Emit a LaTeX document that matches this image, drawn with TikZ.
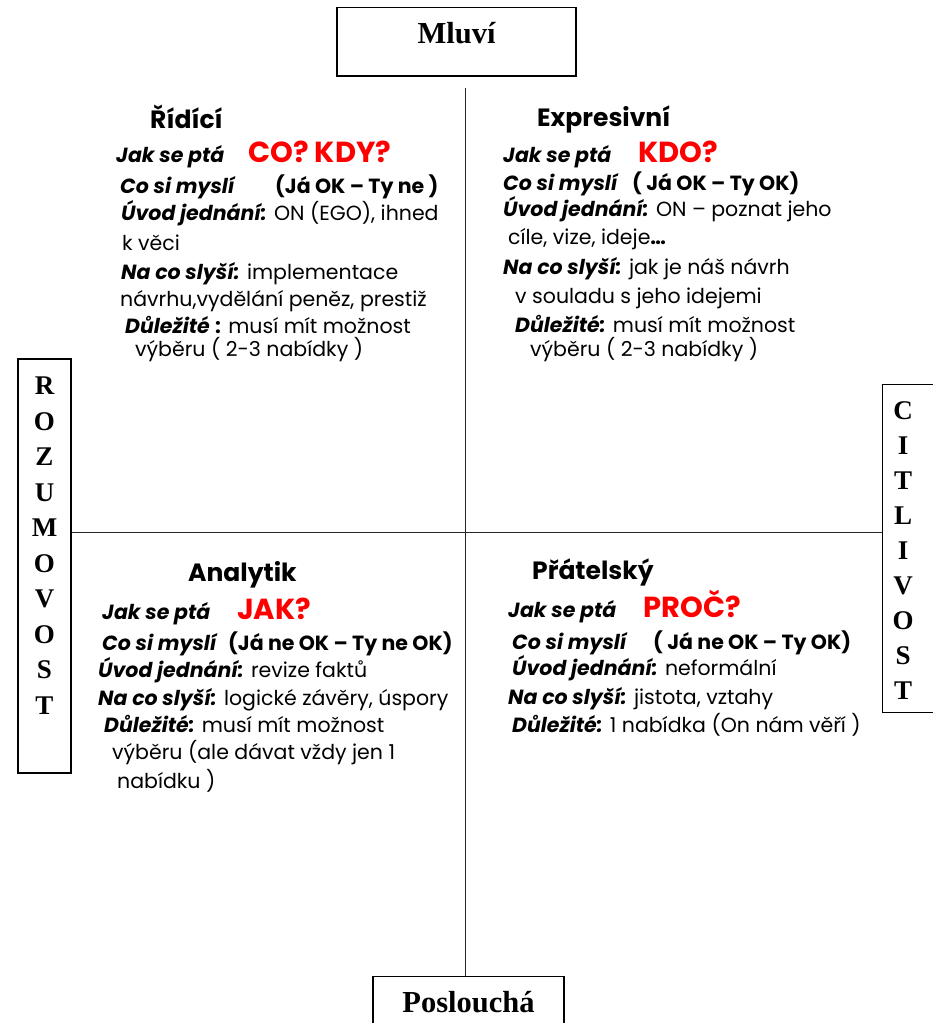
\documentclass[tikz,border=0pt]{standalone}
\usepackage{fontspec}
\setmainfont{Poppins}
\newfontfamily\tnr{Liberation Serif}
\newcommand\lb[1]{\textbf{\textit{#1}}}
\begin{document}
\begin{tikzpicture}[x=1pt,y=-1pt,
  txt/.style={anchor=base west, inner sep=0pt, font=\fontsize{20.5}{24}\selectfont},
  head/.style={anchor=base west, inner sep=0pt, font=\fontsize{25}{30}\selectfont\bfseries},
  ask/.style={anchor=base west, inner sep=0pt, text=red, font=\fontsize{29}{34}\selectfont\bfseries},
  boldp/.style={anchor=base west, inner sep=0pt, font=\fontsize{20.5}{24}\selectfont\bfseries},
  frame/.style={draw=black, line width=1.3pt, inner sep=0pt},
  axis/.style={draw=black!85, line width=0.9pt},
  serif/.style={font=\tnr\fontsize{30.5}{34}\selectfont\bfseries},
  vert/.style={align=center, inner sep=0pt, anchor=north, font=\tnr\fontsize{27}{35.5}\selectfont\bfseries}
]
\useasboundingbox (0,0) rectangle (932,1023);
\fill[white] (0,0) rectangle (932,1023);

% boxes
\node[frame, serif, minimum width=239pt, minimum height=68.5pt, text height=35.5pt, text depth=33pt] (mluvi) at (456.5,41.75) {Mluví};
\node[frame, serif, minimum width=191pt, minimum height=56pt, text height=36pt, text depth=20pt, anchor=north] (posl) at (468.5,976) {Poslouchá};
\node[frame, minimum width=53pt, minimum height=414pt] (rozum) at (44.5,566) {};
\node[vert] (rozumt) at (44.5,377) {R\\O\\Z\\U\\M\\O\\V\\O\\S\\T};
\node[frame, minimum width=72pt, minimum height=328pt, anchor=north west] (citl) at (882,384) {};
\node[vert, font=\tnr\fontsize{27}{35}\selectfont\bfseries] (citlt) at (903,401) {C\\I\\T\\L\\I\\V\\O\\S\\T};

% axes
\coordinate (ctr) at (465,532);
\coordinate (top) at (465,88);
\draw[axis] (top) -- (top |- posl.north);
\draw[axis] (rozum.east |- ctr) -- (citl.west |- ctr);

% top-left
\node[head] (h1) at (150,128) {Řídící};
\node[txt] (a1) at (116,162) {\lb{Jak se ptá}};
\node[ask] (r1) at (248,162) {CO? KDY?};
\node[txt] (b1) at (120,193) {\lb{Co si myslí}};
\node[boldp] (b1x) at (275,193) {(Já OK – Ty ne )};
\node[txt] (c1) at (121,220) {\lb{Úvod jednání:} ON (EGO), ihned};
\node[txt] (c1b) at (122,250) {k věci};
\node[txt] (d1) at (121,279) {\lb{Na co slyší:} implementace};
\node[txt] (d1b) at (120,306) {návrhu,vydělání peněz, prestiž};
\node[txt] (e1) at (125,333) {\lb{Důležité} \textbf{:} musí mít možnost};
\node[txt] (e1b) at (135,356) {výběru ( 2-3 nabídky )};

% top-right
\node[head] (h2) at (537,126) {Expresivní};
\node[txt] (a2) at (503,162) {\lb{Jak se ptá}};
\node[ask] (r2) at (638,162) {KDO?};
\node[txt] (b2) at (503,190) {\lb{Co si myslí}};
\node[boldp] (b2x) at (632,190) {( Já OK – Ty OK)};
\node[txt] (c2) at (503,216) {\lb{Úvod jednání:} ON – poznat jeho};
\node[txt] (c2b) at (508,244) {cíle, vize, ideje\textbf{…}};
\node[txt] (d2) at (503,274) {\lb{Na co slyší:} jak je náš návrh};
\node[txt] (d2b) at (515,303) {v souladu s jeho idejemi};
\node[txt] (e2) at (515,332) {\lb{Důležité:} musí mít možnost};
\node[txt] (e2b) at (530,356) {výběru ( 2-3 nabídky )};

% bottom-left
\node[head] (h3) at (188,581) {Analytik};
\node[txt] (a3) at (102,619) {\lb{Jak se ptá}};
\node[ask] (r3) at (237,619) {JAK?};
\node[txt] (b3) at (102,650) {\lb{Co si myslí}};
\node[boldp] (b3x) at (228,650) {(Já ne OK – Ty ne OK)};
\node[txt] (c3) at (98,677) {\lb{Úvod jednání:} revize faktů};
\node[txt] (d3) at (98,705) {\lb{Na co slyší:} logické závěry, úspory};
\node[txt] (e3) at (104,732) {\lb{Důležité:} musí mít možnost};
\node[txt] (e3b) at (112,759) {výběru (ale dávat vždy jen 1};
\node[txt] (e3c) at (117,788) {nabídku )};

% bottom-right
\node[head] (h4) at (532,579) {Přátelský};
\node[txt] (a4) at (508,617) {\lb{Jak se ptá}};
\node[ask] (r4) at (643,617) {PROČ?};
\node[txt] (b4) at (512,649) {\lb{Co si myslí}};
\node[boldp] (b4x) at (653,649) {( Já ne OK – Ty OK)};
\node[txt] (c4) at (512,675) {\lb{Úvod jednání:} neformální};
\node[txt] (d4) at (508,704) {\lb{Na co slyší:} jistota, vztahy};
\node[txt] (e4) at (512,732) {\lb{Důležité:} 1 nabídka (On nám věří )};
\end{tikzpicture}
\end{document}
